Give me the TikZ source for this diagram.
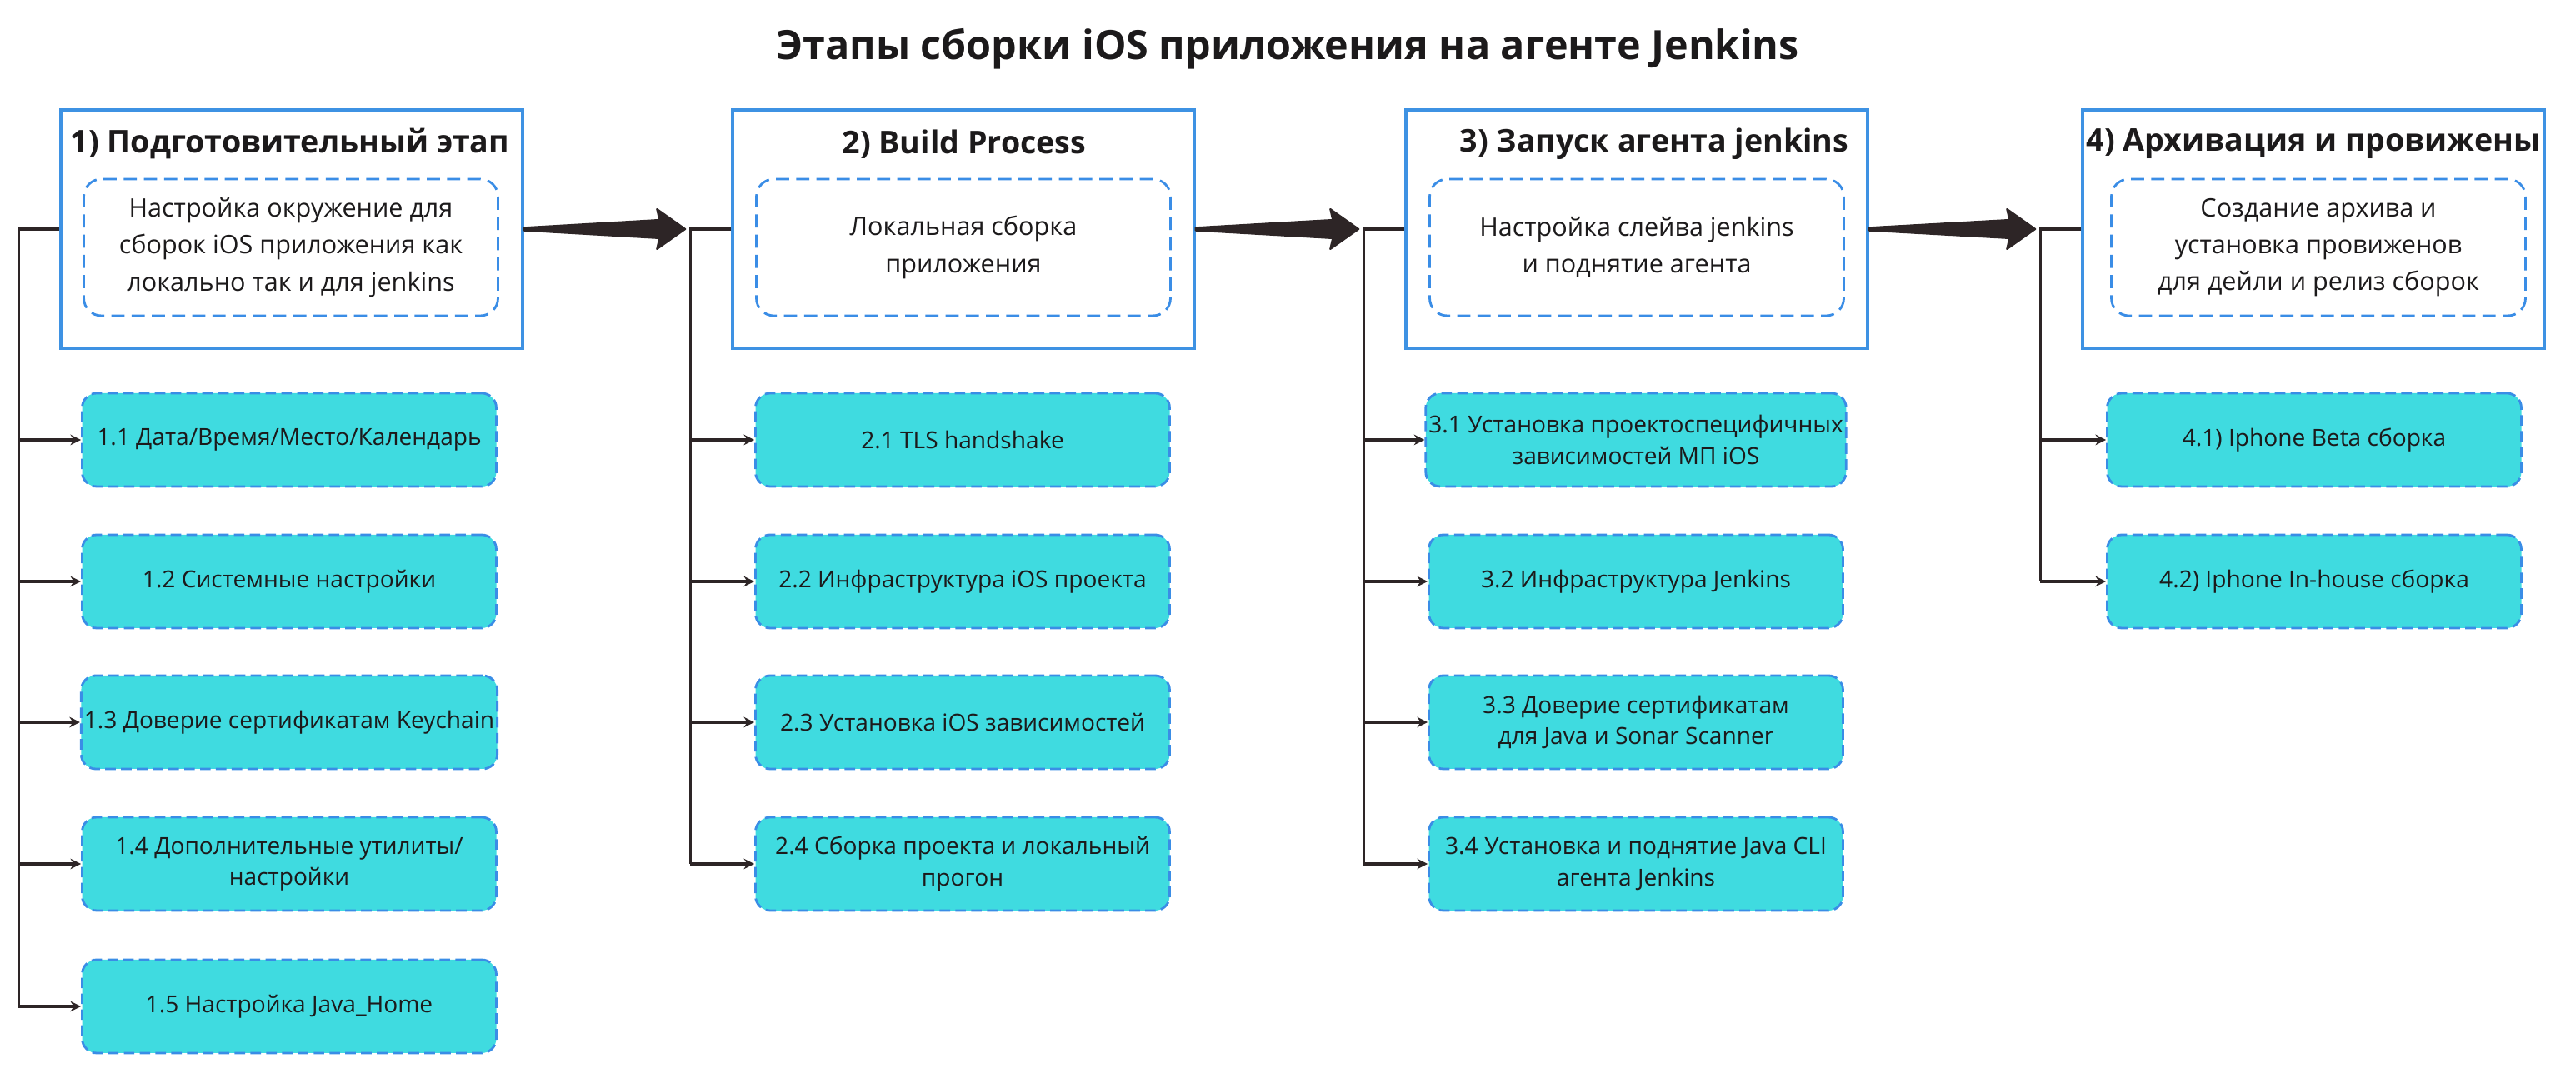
\documentclass[tikz,border=0pt]{standalone}
\usepackage{fontspec}
\setsansfont{Open Sans}
\usetikzlibrary{arrows.meta, positioning, calc}
\definecolor{ink}{HTML}{1C1A1B}
\definecolor{trunk}{HTML}{2D2526}
\definecolor{frame}{HTML}{3E92E3}
\definecolor{dashblue}{HTML}{3A8DE6}
\definecolor{taskfill}{HTML}{3FDBE0}
\tikzset{
  font=\sffamily\fontsize{8.7}{12.6}\selectfont,
  >={Stealth[length=3.6pt, width=3.6pt]},
  %
  stage/.style={draw=frame, line width=1pt, fill=white, inner sep=0pt,
                minimum width=55.4mm, minimum height=28.6mm},
  stagehead/.style={font=\sffamily\bfseries\fontsize{10.7}{12}\selectfont,
                    text=ink, inner sep=0pt},
  stagenote/.style={draw=dashblue, line width=0.8pt,
                    dash pattern=on 4.5pt off 2.4pt, rounded corners=6pt,
                    minimum width=49.7mm, minimum height=16.4mm,
                    align=center, text=ink, inner sep=2pt},
  task/.style={draw=dashblue, fill=taskfill, line width=0.8pt,
               dash pattern=on 3.6pt off 1.8pt, rounded corners=5pt,
               minimum width=49.7mm, minimum height=11.2mm, inner sep=1pt,
               align=center, text=ink, font=\sffamily\fontsize{8}{10.6}\selectfont},
  %
  tree/.style={draw=trunk, line width=0.9pt},
  branch/.style={tree, ->},
  bigflow/.style={fill=trunk, draw=trunk, line width=0.6pt, line join=round},
}
% tapered arrow between two stages
\newcommand{\stagearrow}[2]{%
  \path[bigflow] ($(#1)+(0,0.017)$) -- ($(#2)+(-0.37,0.11)$)
    -- ($(#2)+(-0.40,0.24)$) -- ($(#2)+(-0.06,0)$)
    -- ($(#2)+(-0.40,-0.24)$) -- ($(#2)+(-0.37,-0.11)$)
    -- ($(#1)+(0,-0.017)$) -- cycle;}

\begin{document}
\begin{tikzpicture}[x=1cm, y=1cm, node distance=0pt]

  \useasboundingbox (0,0) rectangle (30.91,12.94);

  \node[stagehead, font=\sffamily\bfseries\fontsize{13.8}{15}\selectfont] (title) at (15.45,12.35)
    {Этапы сборки iOS приложения на агенте Jenkins};

  \node[stage] (s1) at (3.50,10.19) {};
  \node[stage] (s2) at (11.56,10.19) {};
  \node[stage] (s3) at (19.64,10.19) {};
  \node[stage] (s4) at (27.76,10.19) {};

  \node[stagehead] (h1) at (3.48,11.21) {1) Подготовительный этап};
  \node[stagehead] (h2) at (11.57,11.21) {2) Build Process};
  \node[stagehead] (h3) at (19.85,11.21) {3) Запуск агента jenkins};
  \node[stagehead] (h4) at (27.76,11.21) {4) Архивация и провижены};

  \node[stagenote] (n1) at (3.49,9.97)
    {Настройка окружение для\\сборок iOS приложения как\\локально так и для jenkins};
  \node[stagenote] (n2) at (11.56,9.97) {Локальная сборка\\приложения};
  \node[stagenote] (n3) at (19.64,9.97) {Настройка слейва jenkins\\и поднятие агента};
  \node[stagenote] (n4) at (27.82,9.97)
    {Создание архива и\\установка провиженов\\для дейли и релиз сборок};

  \coordinate (t1) at ($(s1.west)+(-0.49,0)$);
  \coordinate (t2) at ($(s2.west)+(-0.49,0)$);
  \coordinate (t3) at ($(s3.west)+(-0.49,0)$);
  \coordinate (t4) at ($(s4.west)+(-0.49,0)$);

  \stagearrow{s1.east}{t2}
  \stagearrow{s2.east}{t3}
  \stagearrow{s3.east}{t4}

  % 1) preparation
  \node[task] (c11) at (3.47,7.66) {1.1 Дата/Время/Место/Календарь};
  \node[task] (c12) at (3.47,5.96) {1.2 Системные настройки};
  \node[task] (c13) at (3.47,4.27) {1.3 Доверие сертификатам Keychain};
  \node[task] (c14) at (3.47,2.57) {1.4 Дополнительные утилиты/\\настройки};
  \node[task] (c15) at (3.47,0.86) {1.5 Настройка Java\_Home};

  % 2) build
  \node[task] (c21) at (11.55,7.66) {2.1 TLS handshake};
  \node[task] (c22) at (11.55,5.96) {2.2 Инфраструктура iOS проекта};
  \node[task] (c23) at (11.55,4.27) {2.3 Установка iOS зависимостей};
  \node[task] (c24) at (11.55,2.57) {2.4 Сборка проекта и локальный\\прогон};

  % 3) jenkins agent
  \node[task] (c31) at (19.63,7.66) {3.1 Установка проектоспецифичных\\зависимостей МП iOS};
  \node[task] (c32) at (19.63,5.96) {3.2 Инфраструктура Jenkins};
  \node[task] (c33) at (19.63,4.27) {3.3 Доверие сертификатам\\для Java и Sonar Scanner};
  \node[task] (c34) at (19.63,2.57) {3.4 Установка и поднятие Java CLI\\агента Jenkins};

  % 4) archive
  \node[task] (c41) at (27.77,7.66) {4.1) Iphone Beta сборка};
  \node[task] (c42) at (27.77,5.96) {4.2) Iphone In-house сборка};

  \draw[tree] (s1.west) -- (t1) -- (t1 |- c15.west);
  \draw[tree] (s2.west) -- (t2) -- (t2 |- c24.west);
  \draw[tree] (s3.west) -- (t3) -- (t3 |- c34.west);
  \draw[tree] (s4.west) -- (t4) -- (t4 |- c42.west);

  \draw[branch] (t1 |- c11.west) -- (c11.west);
  \draw[branch] (t1 |- c12.west) -- (c12.west);
  \draw[branch] (t1 |- c13.west) -- (c13.west);
  \draw[branch] (t1 |- c14.west) -- (c14.west);
  \draw[branch] (t1 |- c15.west) -- (c15.west);

  \draw[branch] (t2 |- c21.west) -- (c21.west);
  \draw[branch] (t2 |- c22.west) -- (c22.west);
  \draw[branch] (t2 |- c23.west) -- (c23.west);
  \draw[branch] (t2 |- c24.west) -- (c24.west);

  \draw[branch] (t3 |- c31.west) -- (c31.west);
  \draw[branch] (t3 |- c32.west) -- (c32.west);
  \draw[branch] (t3 |- c33.west) -- (c33.west);
  \draw[branch] (t3 |- c34.west) -- (c34.west);

  \draw[branch] (t4 |- c41.west) -- (c41.west);
  \draw[branch] (t4 |- c42.west) -- (c42.west);

\end{tikzpicture}
\end{document}
